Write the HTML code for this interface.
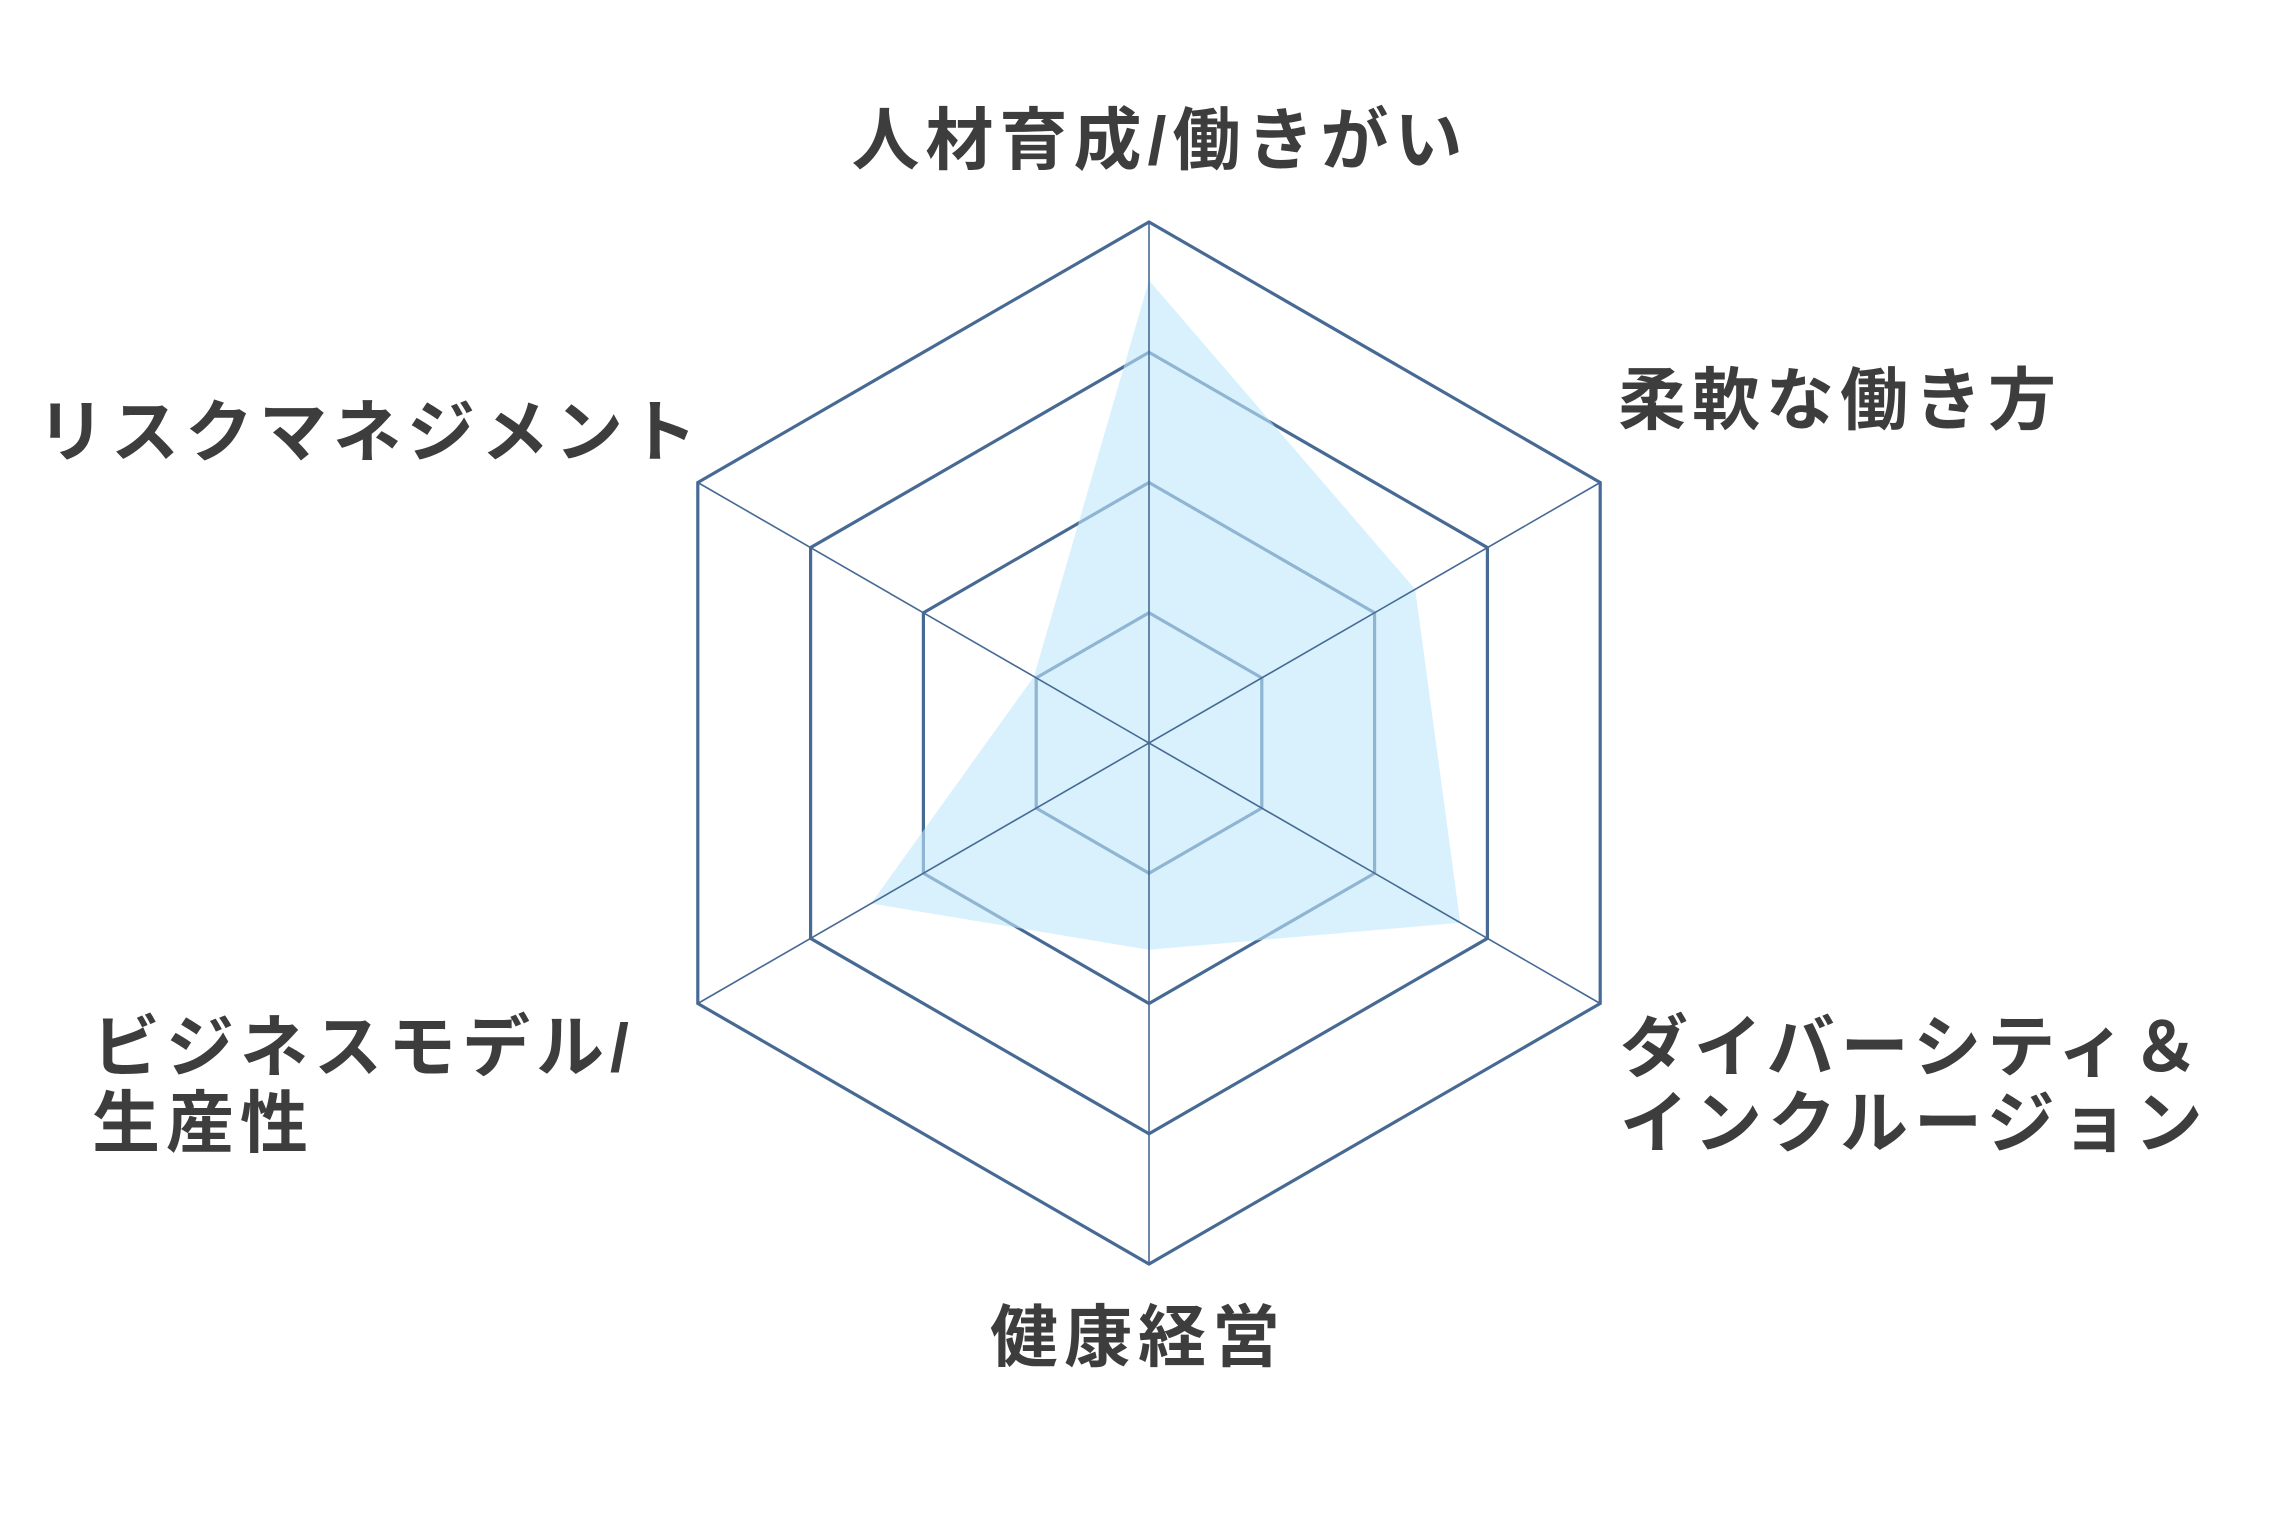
<!DOCTYPE html>
<html><head><meta charset="utf-8">
<style>
html,body{margin:0;padding:0;background:#fff;}
svg{display:block;}
text{font-family:"Liberation Sans","Noto Sans CJK JP",sans-serif;font-weight:bold;fill:#3d3d3d;font-size:68px;letter-spacing:6px;}
</style></head>
<body>
<svg width="2285" height="1536" viewBox="0 0 2285 1536" xmlns="http://www.w3.org/2000/svg">
<g fill="none" stroke="#466a94" stroke-width="3.2" stroke-linejoin="miter">
<polygon points="1149,222 1600.2,482.5 1600.2,1003.5 1149,1264 697.8,1003.5 697.8,482.5"/>
<polygon points="1149,352.25 1487.4,547.6 1487.4,938.4 1149,1133.75 810.6,938.4 810.6,547.6"/>
<polygon points="1149,482.5 1374.6,612.75 1374.6,873.25 1149,1003.5 923.4,873.25 923.4,612.75"/>
<polygon points="1149,612.75 1261.8,677.9 1261.8,808.1 1149,873.25 1036.2,808.1 1036.2,677.9"/>
</g>
<polygon points="1149,280.4 1415.2,589.3 1460.3,922.7 1149,949.8 871.1,903.5 1033.9,676.6" fill="#c0e8fc" fill-opacity="0.6"/>
<g stroke="#466a94" stroke-width="1.6">
<line x1="1149" y1="222" x2="1149" y2="1264"/>
<line x1="1600.2" y1="482.5" x2="697.8" y2="1003.5"/>
<line x1="1600.2" y1="1003.5" x2="697.8" y2="482.5"/>
</g>
<text x="1160" y="141" text-anchor="middle" dominant-baseline="central">人材育成/働きがい</text>
<text x="1618" y="401" dominant-baseline="central">柔軟な働き方</text>
<text x="37" y="433" dominant-baseline="central">リスクマネジメント</text>
<text x="92" y="1048" dominant-baseline="central">ビジネスモデル/</text>
<text x="92" y="1124" dominant-baseline="central">生産性</text>
<text x="1620" y="1048" dominant-baseline="central">ダイバーシティ＆</text>
<text x="1620" y="1124" dominant-baseline="central">インクルージョン</text>
<text x="1138" y="1338" text-anchor="middle" dominant-baseline="central">健康経営</text>
</svg>
</body></html>
